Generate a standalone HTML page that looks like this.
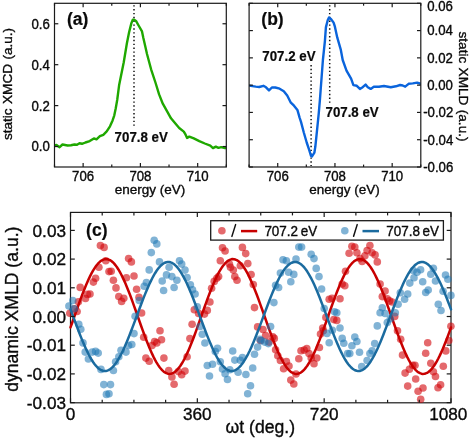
<!DOCTYPE html>
<html><head><meta charset="utf-8"><style>
html,body{margin:0;padding:0;background:#fff;}
body{width:471px;height:438px;overflow:hidden;}
svg{display:block;will-change:transform;}
</style></head><body>
<svg width="471" height="438" viewBox="0 0 471 438" font-family='"Liberation Sans", sans-serif' fill="#0a0a0a">
<rect width="471" height="438" fill="#fff"/>
<clipPath id="ca"><rect x="54.5" y="3.3" width="171.8" height="163.7"/></clipPath>
<clipPath id="cb"><rect x="249.1" y="3.3" width="171.7" height="163.7"/></clipPath>
<clipPath id="cc"><rect x="70.5" y="212.4" width="380.5" height="190.1"/></clipPath>
<line x1="134.0" y1="5.2" x2="134.0" y2="125.8" stroke="#111" stroke-width="1.5" stroke-dasharray="1.4 2.45"/>
<path d="M54.50,145.40 L56.50,145.00 L59.60,147.20 L62.50,144.50 L67.60,145.50 L71.00,145.20 L74.40,144.50 L77.00,144.80 L79.50,143.30 L82.00,143.80 L85.40,142.50 L89.70,141.10 L93.90,138.40 L96.50,139.40 L99.90,136.20 L103.30,134.80 L106.70,131.40 L110.00,126.30 L112.60,120.40 L114.30,115.30 L115.70,108.50 L117.20,100.00 L119.10,85.30 L123.70,62.50 L126.90,43.30 L129.10,32.30 L131.40,23.10 L132.80,19.70 L134.20,19.70 L136.00,20.90 L138.30,25.00 L142.00,31.40 L143.30,37.80 L145.20,46.00 L147.00,54.00 L151.10,69.30 L155.60,83.00 L159.10,94.40 L162.80,103.70 L167.40,111.90 L171.00,118.30 L175.60,123.80 L179.20,128.00 L183.80,131.60 L185.60,134.70 L187.10,137.90 L189.30,136.60 L193.80,138.40 L199.30,141.10 L204.80,143.50 L210.30,145.70 L213.00,148.10 L215.80,146.60 L218.50,147.90 L221.20,147.20 L224.90,148.10 L226.30,148.10" fill="none" stroke="#1fa800" stroke-width="2.4" stroke-linejoin="round" stroke-linecap="round" clip-path="url(#ca)"/>
<rect x="54.5" y="3.3" width="171.80" height="163.70" fill="none" stroke="#1a1a1a" stroke-width="1.2"/>
<line x1="54.50" y1="167.0" x2="54.50" y2="164.6" stroke="#1a1a1a" stroke-width="1.2"/>
<line x1="54.50" y1="3.3" x2="54.50" y2="5.699999999999999" stroke="#1a1a1a" stroke-width="1.2"/>
<line x1="83.13" y1="167.0" x2="83.13" y2="163.0" stroke="#1a1a1a" stroke-width="1.2"/>
<line x1="83.13" y1="3.3" x2="83.13" y2="7.3" stroke="#1a1a1a" stroke-width="1.2"/>
<line x1="111.77" y1="167.0" x2="111.77" y2="164.6" stroke="#1a1a1a" stroke-width="1.2"/>
<line x1="111.77" y1="3.3" x2="111.77" y2="5.699999999999999" stroke="#1a1a1a" stroke-width="1.2"/>
<line x1="140.40" y1="167.0" x2="140.40" y2="163.0" stroke="#1a1a1a" stroke-width="1.2"/>
<line x1="140.40" y1="3.3" x2="140.40" y2="7.3" stroke="#1a1a1a" stroke-width="1.2"/>
<line x1="169.03" y1="167.0" x2="169.03" y2="164.6" stroke="#1a1a1a" stroke-width="1.2"/>
<line x1="169.03" y1="3.3" x2="169.03" y2="5.699999999999999" stroke="#1a1a1a" stroke-width="1.2"/>
<line x1="197.67" y1="167.0" x2="197.67" y2="163.0" stroke="#1a1a1a" stroke-width="1.2"/>
<line x1="197.67" y1="3.3" x2="197.67" y2="7.3" stroke="#1a1a1a" stroke-width="1.2"/>
<line x1="226.30" y1="167.0" x2="226.30" y2="164.6" stroke="#1a1a1a" stroke-width="1.2"/>
<line x1="226.30" y1="3.3" x2="226.30" y2="5.699999999999999" stroke="#1a1a1a" stroke-width="1.2"/>
<line x1="54.5" y1="146.54" x2="58.3" y2="146.54" stroke="#1a1a1a" stroke-width="1.2"/>
<line x1="226.3" y1="146.54" x2="222.5" y2="146.54" stroke="#1a1a1a" stroke-width="1.2"/>
<line x1="54.5" y1="105.61" x2="58.3" y2="105.61" stroke="#1a1a1a" stroke-width="1.2"/>
<line x1="226.3" y1="105.61" x2="222.5" y2="105.61" stroke="#1a1a1a" stroke-width="1.2"/>
<line x1="54.5" y1="64.69" x2="58.3" y2="64.69" stroke="#1a1a1a" stroke-width="1.2"/>
<line x1="226.3" y1="64.69" x2="222.5" y2="64.69" stroke="#1a1a1a" stroke-width="1.2"/>
<line x1="54.5" y1="23.76" x2="58.3" y2="23.76" stroke="#1a1a1a" stroke-width="1.2"/>
<line x1="226.3" y1="23.76" x2="222.5" y2="23.76" stroke="#1a1a1a" stroke-width="1.2"/>
<text transform="translate(83.13 180.60) scale(1 1.09)" font-size="13.2" text-anchor="middle" font-weight="normal" stroke="#0a0a0a" stroke-width="0.35" >706</text>
<text transform="translate(140.40 180.60) scale(1 1.09)" font-size="13.2" text-anchor="middle" font-weight="normal" stroke="#0a0a0a" stroke-width="0.35" >708</text>
<text transform="translate(197.67 180.60) scale(1 1.09)" font-size="13.2" text-anchor="middle" font-weight="normal" stroke="#0a0a0a" stroke-width="0.35" >710</text>
<text transform="translate(49.80 151.44) scale(1 1.09)" font-size="13.2" text-anchor="end" font-weight="normal" stroke="#0a0a0a" stroke-width="0.35" >0.0</text>
<text transform="translate(49.80 110.51) scale(1 1.09)" font-size="13.2" text-anchor="end" font-weight="normal" stroke="#0a0a0a" stroke-width="0.35" >0.2</text>
<text transform="translate(49.80 69.59) scale(1 1.09)" font-size="13.2" text-anchor="end" font-weight="normal" stroke="#0a0a0a" stroke-width="0.35" >0.4</text>
<text transform="translate(49.80 28.66) scale(1 1.09)" font-size="13.2" text-anchor="end" font-weight="normal" stroke="#0a0a0a" stroke-width="0.35" >0.6</text>
<text transform="translate(149.90 193.80)" font-size="13.5" text-anchor="middle" font-weight="normal" stroke="#0a0a0a" stroke-width="0.35" >energy (eV)</text>
<text transform="translate(12.40 84.00) rotate(-90)" font-size="13.6" text-anchor="middle" font-weight="normal" stroke="#0a0a0a" stroke-width="0.35" word-spacing="0.6">static XMCD (a.u.)</text>
<text transform="translate(67.00 25.30)" font-size="17.5" text-anchor="start" font-weight="bold" stroke="#0a0a0a" stroke-width="0.2" >(a)</text>
<text transform="translate(114.60 141.60) scale(1 1.07)" font-size="13.3" text-anchor="start" font-weight="bold" stroke="#0a0a0a" stroke-width="0.2" >707.8 eV</text>
<line x1="311.1" y1="65" x2="311.1" y2="166" stroke="#111" stroke-width="1.5" stroke-dasharray="1.4 2.45"/>
<line x1="329.7" y1="5.2" x2="329.7" y2="104.5" stroke="#111" stroke-width="1.5" stroke-dasharray="1.4 2.45"/>
<path d="M249.10,85.60 L252.40,86.10 L255.80,86.60 L259.20,87.00 L263.40,85.80 L266.00,87.30 L269.00,90.40 L271.90,87.50 L275.30,87.50 L279.60,88.70 L283.80,91.20 L287.20,95.50 L290.60,102.30 L294.00,105.70 L297.40,109.90 L299.60,117.60 L301.00,121.90 L303.80,132.50 L306.70,142.50 L309.10,149.70 L311.00,156.00 L312.00,156.40 L314.40,152.60 L315.30,146.80 L316.30,137.30 L317.30,127.70 L318.80,112.80 L319.90,100.00 L321.40,80.00 L322.90,60.00 L324.90,41.10 L325.90,27.40 L327.70,20.30 L329.00,17.50 L331.10,19.20 L333.60,22.60 L334.90,26.70 L337.30,37.70 L340.70,49.30 L342.70,60.00 L346.50,70.70 L351.10,78.70 L353.40,85.10 L356.80,85.80 L359.90,88.90 L362.70,87.20 L365.60,84.60 L367.80,87.20 L370.70,88.90 L373.80,86.80 L378.90,86.80 L384.00,86.00 L390.80,87.20 L395.90,86.30 L400.10,85.00 L402.70,85.50 L405.20,86.70 L408.60,83.80 L412.80,83.40 L417.10,82.60 L420.80,83.80" fill="none" stroke="#0a64dc" stroke-width="2.4" stroke-linejoin="round" stroke-linecap="round" clip-path="url(#cb)"/>
<rect x="249.1" y="3.3" width="171.70" height="163.70" fill="none" stroke="#1a1a1a" stroke-width="1.2"/>
<line x1="249.10" y1="167.0" x2="249.10" y2="164.6" stroke="#1a1a1a" stroke-width="1.2"/>
<line x1="249.10" y1="3.3" x2="249.10" y2="5.699999999999999" stroke="#1a1a1a" stroke-width="1.2"/>
<line x1="277.72" y1="167.0" x2="277.72" y2="163.0" stroke="#1a1a1a" stroke-width="1.2"/>
<line x1="277.72" y1="3.3" x2="277.72" y2="7.3" stroke="#1a1a1a" stroke-width="1.2"/>
<line x1="306.33" y1="167.0" x2="306.33" y2="164.6" stroke="#1a1a1a" stroke-width="1.2"/>
<line x1="306.33" y1="3.3" x2="306.33" y2="5.699999999999999" stroke="#1a1a1a" stroke-width="1.2"/>
<line x1="334.95" y1="167.0" x2="334.95" y2="163.0" stroke="#1a1a1a" stroke-width="1.2"/>
<line x1="334.95" y1="3.3" x2="334.95" y2="7.3" stroke="#1a1a1a" stroke-width="1.2"/>
<line x1="363.57" y1="167.0" x2="363.57" y2="164.6" stroke="#1a1a1a" stroke-width="1.2"/>
<line x1="363.57" y1="3.3" x2="363.57" y2="5.699999999999999" stroke="#1a1a1a" stroke-width="1.2"/>
<line x1="392.18" y1="167.0" x2="392.18" y2="163.0" stroke="#1a1a1a" stroke-width="1.2"/>
<line x1="392.18" y1="3.3" x2="392.18" y2="7.3" stroke="#1a1a1a" stroke-width="1.2"/>
<line x1="420.80" y1="167.0" x2="420.80" y2="164.6" stroke="#1a1a1a" stroke-width="1.2"/>
<line x1="420.80" y1="3.3" x2="420.80" y2="5.699999999999999" stroke="#1a1a1a" stroke-width="1.2"/>
<line x1="249.1" y1="167.00" x2="252.9" y2="167.00" stroke="#1a1a1a" stroke-width="1.2"/>
<line x1="420.8" y1="167.00" x2="417.0" y2="167.00" stroke="#1a1a1a" stroke-width="1.2"/>
<line x1="249.1" y1="139.72" x2="252.9" y2="139.72" stroke="#1a1a1a" stroke-width="1.2"/>
<line x1="420.8" y1="139.72" x2="417.0" y2="139.72" stroke="#1a1a1a" stroke-width="1.2"/>
<line x1="249.1" y1="112.43" x2="252.9" y2="112.43" stroke="#1a1a1a" stroke-width="1.2"/>
<line x1="420.8" y1="112.43" x2="417.0" y2="112.43" stroke="#1a1a1a" stroke-width="1.2"/>
<line x1="249.1" y1="85.15" x2="252.9" y2="85.15" stroke="#1a1a1a" stroke-width="1.2"/>
<line x1="420.8" y1="85.15" x2="417.0" y2="85.15" stroke="#1a1a1a" stroke-width="1.2"/>
<line x1="249.1" y1="57.87" x2="252.9" y2="57.87" stroke="#1a1a1a" stroke-width="1.2"/>
<line x1="420.8" y1="57.87" x2="417.0" y2="57.87" stroke="#1a1a1a" stroke-width="1.2"/>
<line x1="249.1" y1="30.58" x2="252.9" y2="30.58" stroke="#1a1a1a" stroke-width="1.2"/>
<line x1="420.8" y1="30.58" x2="417.0" y2="30.58" stroke="#1a1a1a" stroke-width="1.2"/>
<line x1="249.1" y1="3.30" x2="252.9" y2="3.30" stroke="#1a1a1a" stroke-width="1.2"/>
<line x1="420.8" y1="3.30" x2="417.0" y2="3.30" stroke="#1a1a1a" stroke-width="1.2"/>
<text transform="translate(277.72 180.60) scale(1 1.09)" font-size="13.2" text-anchor="middle" font-weight="normal" stroke="#0a0a0a" stroke-width="0.35" >706</text>
<text transform="translate(334.95 180.60) scale(1 1.09)" font-size="13.2" text-anchor="middle" font-weight="normal" stroke="#0a0a0a" stroke-width="0.35" >708</text>
<text transform="translate(392.18 180.60) scale(1 1.09)" font-size="13.2" text-anchor="middle" font-weight="normal" stroke="#0a0a0a" stroke-width="0.35" >710</text>
<text transform="translate(423.20 171.80) scale(1 1.09)" font-size="13.2" text-anchor="start" font-weight="normal" stroke="#0a0a0a" stroke-width="0.35" >-0.06</text>
<text transform="translate(423.20 144.52) scale(1 1.09)" font-size="13.2" text-anchor="start" font-weight="normal" stroke="#0a0a0a" stroke-width="0.35" >-0.04</text>
<text transform="translate(423.20 117.23) scale(1 1.09)" font-size="13.2" text-anchor="start" font-weight="normal" stroke="#0a0a0a" stroke-width="0.35" >-0.02</text>
<text transform="translate(427.20 89.95) scale(1 1.09)" font-size="13.2" text-anchor="start" font-weight="normal" stroke="#0a0a0a" stroke-width="0.35" >0.00</text>
<text transform="translate(427.20 62.67) scale(1 1.09)" font-size="13.2" text-anchor="start" font-weight="normal" stroke="#0a0a0a" stroke-width="0.35" >0.02</text>
<text transform="translate(427.20 35.38) scale(1 1.09)" font-size="13.2" text-anchor="start" font-weight="normal" stroke="#0a0a0a" stroke-width="0.35" >0.04</text>
<text transform="translate(427.20 11.00) scale(1 1.09)" font-size="13.2" text-anchor="start" font-weight="normal" stroke="#0a0a0a" stroke-width="0.35" >0.06</text>
<text transform="translate(344.40 193.80)" font-size="13.5" text-anchor="middle" font-weight="normal" stroke="#0a0a0a" stroke-width="0.35" >energy (eV)</text>
<text transform="translate(459.00 86.50) rotate(90)" font-size="13.6" text-anchor="middle" font-weight="normal" stroke="#0a0a0a" stroke-width="0.35" word-spacing="0.6">static XMLD (a.u.)</text>
<text transform="translate(261.30 25.20)" font-size="17.5" text-anchor="start" font-weight="bold" stroke="#0a0a0a" stroke-width="0.2" >(b)</text>
<text transform="translate(262.30 60.60) scale(1 1.07)" font-size="13.3" text-anchor="start" font-weight="bold" stroke="#0a0a0a" stroke-width="0.2" >707.2 eV</text>
<text transform="translate(325.50 116.50) scale(1 1.07)" font-size="13.3" text-anchor="start" font-weight="bold" stroke="#0a0a0a" stroke-width="0.2" >707.8 eV</text>
<rect x="70.5" y="212.4" width="380.50" height="190.40" fill="none" stroke="#1a1a1a" stroke-width="1.2"/>
<g fill="rgb(210,5,10)" fill-opacity="0.6">
<circle cx="100.4" cy="245.6" r="3.8"/>
<circle cx="104.1" cy="247.4" r="3.8"/>
<circle cx="128.6" cy="258.6" r="3.8"/>
<circle cx="131.4" cy="261.9" r="3.8"/>
<circle cx="105.8" cy="260.8" r="3.8"/>
<circle cx="98.9" cy="267.3" r="3.8"/>
<circle cx="109" cy="271.6" r="3.8"/>
<circle cx="111.2" cy="271.2" r="3.8"/>
<circle cx="95.6" cy="278.2" r="3.8"/>
<circle cx="93.4" cy="282.1" r="3.8"/>
<circle cx="113.4" cy="280.3" r="3.8"/>
<circle cx="126.4" cy="277.7" r="3.8"/>
<circle cx="134" cy="276" r="3.8"/>
<circle cx="80.2" cy="287.4" r="3.8"/>
<circle cx="116" cy="287.9" r="3.8"/>
<circle cx="136.6" cy="289.2" r="3.8"/>
<circle cx="90" cy="294" r="3.8"/>
<circle cx="87.4" cy="294.4" r="3.8"/>
<circle cx="85.5" cy="298.5" r="3.8"/>
<circle cx="118.8" cy="296.6" r="3.8"/>
<circle cx="123.8" cy="298.3" r="3.8"/>
<circle cx="121.6" cy="301.4" r="3.8"/>
<circle cx="139" cy="297.2" r="3.8"/>
<circle cx="78.4" cy="301.8" r="3.8"/>
<circle cx="74.4" cy="308.7" r="3.8"/>
<circle cx="69.8" cy="313.3" r="3.8"/>
<circle cx="77.1" cy="311.5" r="3.8"/>
<circle cx="141.6" cy="313" r="3.8"/>
<circle cx="160" cy="330.8" r="3.8"/>
<circle cx="143.7" cy="337.3" r="3.8"/>
<circle cx="154.6" cy="341.6" r="3.8"/>
<circle cx="156.8" cy="342.9" r="3.8"/>
<circle cx="152" cy="345.5" r="3.8"/>
<circle cx="161.5" cy="339.7" r="3.8"/>
<circle cx="145.9" cy="358.1" r="3.8"/>
<circle cx="149.2" cy="361.2" r="3.8"/>
<circle cx="163.9" cy="358.1" r="3.8"/>
<circle cx="222.5" cy="247.8" r="3.8"/>
<circle cx="225.1" cy="251" r="3.8"/>
<circle cx="242.4" cy="247.4" r="3.8"/>
<circle cx="245.7" cy="253.6" r="3.8"/>
<circle cx="220.3" cy="260.8" r="3.8"/>
<circle cx="247.8" cy="263.6" r="3.8"/>
<circle cx="229.4" cy="264.1" r="3.8"/>
<circle cx="230.5" cy="267.3" r="3.8"/>
<circle cx="233.3" cy="270.1" r="3.8"/>
<circle cx="240.3" cy="265.8" r="3.8"/>
<circle cx="218.6" cy="276.6" r="3.8"/>
<circle cx="216.8" cy="278.2" r="3.8"/>
<circle cx="234.8" cy="276.6" r="3.8"/>
<circle cx="237" cy="280.3" r="3.8"/>
<circle cx="214.2" cy="281.4" r="3.8"/>
<circle cx="251.1" cy="274.5" r="3.8"/>
<circle cx="211.6" cy="288.3" r="3.8"/>
<circle cx="253.3" cy="284.5" r="3.8"/>
<circle cx="209.9" cy="302" r="3.8"/>
<circle cx="194.3" cy="309.8" r="3.8"/>
<circle cx="198.6" cy="313.4" r="3.8"/>
<circle cx="204.5" cy="314.1" r="3.8"/>
<circle cx="207.3" cy="310.4" r="3.8"/>
<circle cx="254.5" cy="307.6" r="3.8"/>
<circle cx="192.1" cy="324.3" r="3.8"/>
<circle cx="189.9" cy="338.6" r="3.8"/>
<circle cx="187.1" cy="356.8" r="3.8"/>
<circle cx="168.7" cy="370.5" r="3.8"/>
<circle cx="171.9" cy="377" r="3.8"/>
<circle cx="178.4" cy="371.6" r="3.8"/>
<circle cx="181.7" cy="374.8" r="3.8"/>
<circle cx="185" cy="371.1" r="3.8"/>
<circle cx="174.1" cy="384.2" r="3.8"/>
<circle cx="257.6" cy="326.9" r="3.8"/>
<circle cx="263" cy="329.5" r="3.8"/>
<circle cx="260.5" cy="340.5" r="3.8"/>
<circle cx="265.6" cy="335.6" r="3.8"/>
<circle cx="269.1" cy="342.1" r="3.8"/>
<circle cx="272.8" cy="336.7" r="3.8"/>
<circle cx="274.3" cy="338.4" r="3.8"/>
<circle cx="275.6" cy="349.7" r="3.8"/>
<circle cx="277.8" cy="355.8" r="3.8"/>
<circle cx="280.4" cy="360.5" r="3.8"/>
<circle cx="286.4" cy="361.6" r="3.8"/>
<circle cx="289" cy="366" r="3.8"/>
<circle cx="283.6" cy="368.8" r="3.8"/>
<circle cx="296" cy="374" r="3.8"/>
<circle cx="290.8" cy="380.1" r="3.8"/>
<circle cx="293.8" cy="384" r="3.8"/>
<circle cx="298.8" cy="358.8" r="3.8"/>
<circle cx="301" cy="350.8" r="3.8"/>
<circle cx="304.2" cy="350.1" r="3.8"/>
<circle cx="306.8" cy="348.6" r="3.8"/>
<circle cx="309" cy="353.6" r="3.8"/>
<circle cx="311.2" cy="358" r="3.8"/>
<circle cx="314" cy="363.8" r="3.8"/>
<circle cx="316.8" cy="358" r="3.8"/>
<circle cx="319.4" cy="347.5" r="3.8"/>
<circle cx="320.5" cy="334.1" r="3.8"/>
<circle cx="322.7" cy="328" r="3.8"/>
<circle cx="325.9" cy="317.4" r="3.8"/>
<circle cx="333.8" cy="319.6" r="3.8"/>
<circle cx="336.8" cy="320.4" r="3.8"/>
<circle cx="323.3" cy="330.8" r="3.8"/>
<circle cx="329.2" cy="299.2" r="3.8"/>
<circle cx="332" cy="298.3" r="3.8"/>
<circle cx="340" cy="298.7" r="3.8"/>
<circle cx="342.2" cy="284" r="3.8"/>
<circle cx="344.8" cy="285.7" r="3.8"/>
<circle cx="345.5" cy="271.3" r="3.8"/>
<circle cx="351.9" cy="246.2" r="3.8"/>
<circle cx="354.8" cy="247.1" r="3.8"/>
<circle cx="369.9" cy="245.6" r="3.8"/>
<circle cx="349.1" cy="253.2" r="3.8"/>
<circle cx="356.9" cy="252.8" r="3.8"/>
<circle cx="367.1" cy="250.6" r="3.8"/>
<circle cx="372.1" cy="252.8" r="3.8"/>
<circle cx="375.1" cy="254.9" r="3.8"/>
<circle cx="360" cy="258.6" r="3.8"/>
<circle cx="364.9" cy="255.8" r="3.8"/>
<circle cx="362.1" cy="261.4" r="3.8"/>
<circle cx="377.3" cy="261.9" r="3.8"/>
<circle cx="380.1" cy="284" r="3.8"/>
<circle cx="385.1" cy="291.1" r="3.8"/>
<circle cx="382.3" cy="296.6" r="3.8"/>
<circle cx="387.3" cy="298.7" r="3.8"/>
<circle cx="389.5" cy="300.9" r="3.8"/>
<circle cx="392.1" cy="302" r="3.8"/>
<circle cx="394.7" cy="316.4" r="3.8"/>
<circle cx="397.5" cy="330.8" r="3.8"/>
<circle cx="400.7" cy="339.3" r="3.8"/>
<circle cx="402.5" cy="355.1" r="3.8"/>
<circle cx="427.7" cy="342.7" r="3.8"/>
<circle cx="425.7" cy="353.3" r="3.8"/>
<circle cx="430.8" cy="363.2" r="3.8"/>
<circle cx="412.7" cy="365.3" r="3.8"/>
<circle cx="409.4" cy="369.2" r="3.8"/>
<circle cx="405.1" cy="373.1" r="3.8"/>
<circle cx="433.4" cy="371.7" r="3.8"/>
<circle cx="415.7" cy="379" r="3.8"/>
<circle cx="407.7" cy="386.1" r="3.8"/>
<circle cx="423" cy="388" r="3.8"/>
<circle cx="418.1" cy="391.3" r="3.8"/>
<circle cx="420.7" cy="399.2" r="3.8"/>
<circle cx="450.9" cy="326.3" r="3.8"/>
<circle cx="448.8" cy="340.6" r="3.8"/>
<circle cx="445.8" cy="350.9" r="3.8"/>
<circle cx="443.3" cy="366.3" r="3.8"/>
<circle cx="435.5" cy="376.5" r="3.8"/>
<circle cx="440.6" cy="384.7" r="3.8"/>
<circle cx="438" cy="387.8" r="3.8"/>
<circle cx="415" cy="365.3" r="3.8"/>
</g>
<path d="M70.50,327.45 L71.91,323.50 L73.32,319.50 L74.73,315.50 L76.14,311.50 L77.55,307.52 L78.96,303.59 L80.36,299.72 L81.77,295.93 L83.18,292.24 L84.59,288.67 L86.00,285.24 L87.41,281.96 L88.82,278.84 L90.23,275.91 L91.64,273.18 L93.05,270.66 L94.46,268.36 L95.87,266.30 L97.28,264.48 L98.69,262.91 L100.09,261.61 L101.50,260.57 L102.91,259.81 L104.32,259.32 L105.73,259.11 L107.14,259.18 L108.55,259.53 L109.96,260.15 L111.37,261.06 L112.78,262.23 L114.19,263.66 L115.60,265.36 L117.01,267.30 L118.41,269.48 L119.82,271.89 L121.23,274.52 L122.64,277.35 L124.05,280.38 L125.46,283.58 L126.87,286.94 L128.28,290.44 L129.69,294.07 L131.10,297.81 L132.51,301.64 L133.92,305.55 L135.33,309.50 L136.74,313.50 L138.14,317.50 L139.55,321.50 L140.96,325.48 L142.37,329.41 L143.78,333.28 L145.19,337.07 L146.60,340.76 L148.01,344.33 L149.42,347.76 L150.83,351.04 L152.24,354.16 L153.65,357.09 L155.06,359.82 L156.46,362.34 L157.87,364.64 L159.28,366.70 L160.69,368.52 L162.10,370.09 L163.51,371.39 L164.92,372.43 L166.33,373.19 L167.74,373.68 L169.15,373.89 L170.56,373.82 L171.97,373.47 L173.38,372.85 L174.79,371.94 L176.19,370.77 L177.60,369.34 L179.01,367.64 L180.42,365.70 L181.83,363.52 L183.24,361.11 L184.65,358.48 L186.06,355.65 L187.47,352.62 L188.88,349.42 L190.29,346.06 L191.70,342.56 L193.11,338.93 L194.51,335.19 L195.92,331.36 L197.33,327.45 L198.74,323.50 L200.15,319.50 L201.56,315.50 L202.97,311.50 L204.38,307.52 L205.79,303.59 L207.20,299.72 L208.61,295.93 L210.02,292.24 L211.43,288.67 L212.84,285.24 L214.24,281.96 L215.65,278.84 L217.06,275.91 L218.47,273.18 L219.88,270.66 L221.29,268.36 L222.70,266.30 L224.11,264.48 L225.52,262.91 L226.93,261.61 L228.34,260.57 L229.75,259.81 L231.16,259.32 L232.56,259.11 L233.97,259.18 L235.38,259.53 L236.79,260.15 L238.20,261.06 L239.61,262.23 L241.02,263.66 L242.43,265.36 L243.84,267.30 L245.25,269.48 L246.66,271.89 L248.07,274.52 L249.48,277.35 L250.89,280.38 L252.29,283.58 L253.70,286.94 L255.11,290.44 L256.52,294.07 L257.93,297.81 L259.34,301.64 L260.75,305.55 L262.16,309.50 L263.57,313.50 L264.98,317.50 L266.39,321.50 L267.80,325.48 L269.21,329.41 L270.61,333.28 L272.02,337.07 L273.43,340.76 L274.84,344.33 L276.25,347.76 L277.66,351.04 L279.07,354.16 L280.48,357.09 L281.89,359.82 L283.30,362.34 L284.71,364.64 L286.12,366.70 L287.53,368.52 L288.94,370.09 L290.34,371.39 L291.75,372.43 L293.16,373.19 L294.57,373.68 L295.98,373.89 L297.39,373.82 L298.80,373.47 L300.21,372.85 L301.62,371.94 L303.03,370.77 L304.44,369.34 L305.85,367.64 L307.26,365.70 L308.66,363.52 L310.07,361.11 L311.48,358.48 L312.89,355.65 L314.30,352.62 L315.71,349.42 L317.12,346.06 L318.53,342.56 L319.94,338.93 L321.35,335.19 L322.76,331.36 L324.17,327.45 L325.58,323.50 L326.99,319.50 L328.39,315.50 L329.80,311.50 L331.21,307.52 L332.62,303.59 L334.03,299.72 L335.44,295.93 L336.85,292.24 L338.26,288.67 L339.67,285.24 L341.08,281.96 L342.49,278.84 L343.90,275.91 L345.31,273.18 L346.71,270.66 L348.12,268.36 L349.53,266.30 L350.94,264.48 L352.35,262.91 L353.76,261.61 L355.17,260.57 L356.58,259.81 L357.99,259.32 L359.40,259.11 L360.81,259.18 L362.22,259.53 L363.63,260.15 L365.04,261.06 L366.44,262.23 L367.85,263.66 L369.26,265.36 L370.67,267.30 L372.08,269.48 L373.49,271.89 L374.90,274.52 L376.31,277.35 L377.72,280.38 L379.13,283.58 L380.54,286.94 L381.95,290.44 L383.36,294.07 L384.76,297.81 L386.17,301.64 L387.58,305.55 L388.99,309.50 L390.40,313.50 L391.81,317.50 L393.22,321.50 L394.63,325.48 L396.04,329.41 L397.45,333.28 L398.86,337.07 L400.27,340.76 L401.68,344.33 L403.09,347.76 L404.49,351.04 L405.90,354.16 L407.31,357.09 L408.72,359.82 L410.13,362.34 L411.54,364.64 L412.95,366.70 L414.36,368.52 L415.77,370.09 L417.18,371.39 L418.59,372.43 L420.00,373.19 L421.41,373.68 L422.81,373.89 L424.22,373.82 L425.63,373.47 L427.04,372.85 L428.45,371.94 L429.86,370.77 L431.27,369.34 L432.68,367.64 L434.09,365.70 L435.50,363.52 L436.91,361.11 L438.32,358.48 L439.73,355.65 L441.14,352.62 L442.54,349.42 L443.95,346.06 L445.36,342.56 L446.77,338.93 L448.18,335.19 L449.59,331.36 L451.00,327.45" fill="none" stroke="#c80000" stroke-width="2.5" stroke-linejoin="round" stroke-linecap="round" />
<g fill="rgb(31,119,180)" fill-opacity="0.56">
<circle cx="154.2" cy="240.2" r="3.8"/>
<circle cx="156.8" cy="243.9" r="3.8"/>
<circle cx="151.3" cy="252.6" r="3.8"/>
<circle cx="159.5" cy="261.9" r="3.8"/>
<circle cx="149.2" cy="269.9" r="3.8"/>
<circle cx="146.4" cy="282.5" r="3.8"/>
<circle cx="144.2" cy="286.2" r="3.8"/>
<circle cx="162.2" cy="281" r="3.8"/>
<circle cx="163.6" cy="290.5" r="3.8"/>
<circle cx="72.8" cy="300.5" r="3.8"/>
<circle cx="139.2" cy="300.5" r="3.8"/>
<circle cx="68.9" cy="306" r="3.8"/>
<circle cx="74.4" cy="308.7" r="3.8"/>
<circle cx="78.8" cy="324.2" r="3.8"/>
<circle cx="80.8" cy="329.3" r="3.8"/>
<circle cx="83" cy="342.9" r="3.8"/>
<circle cx="85.2" cy="352.1" r="3.8"/>
<circle cx="88.4" cy="359" r="3.8"/>
<circle cx="92.3" cy="352.1" r="3.8"/>
<circle cx="95.6" cy="351.4" r="3.8"/>
<circle cx="98.2" cy="353.1" r="3.8"/>
<circle cx="101" cy="369.4" r="3.8"/>
<circle cx="103.8" cy="384.6" r="3.8"/>
<circle cx="110.5" cy="384.6" r="3.8"/>
<circle cx="106.4" cy="394.4" r="3.8"/>
<circle cx="109" cy="393.7" r="3.8"/>
<circle cx="113.4" cy="370.5" r="3.8"/>
<circle cx="115.6" cy="361.8" r="3.8"/>
<circle cx="118.8" cy="356.8" r="3.8"/>
<circle cx="121" cy="350.3" r="3.8"/>
<circle cx="126" cy="352.1" r="3.8"/>
<circle cx="128.6" cy="345.5" r="3.8"/>
<circle cx="131.8" cy="344.5" r="3.8"/>
<circle cx="134" cy="333.6" r="3.8"/>
<circle cx="135.1" cy="316.3" r="3.8"/>
<circle cx="169.1" cy="267.3" r="3.8"/>
<circle cx="179.5" cy="260.8" r="3.8"/>
<circle cx="181.7" cy="264.1" r="3.8"/>
<circle cx="185" cy="270.1" r="3.8"/>
<circle cx="166.5" cy="274.9" r="3.8"/>
<circle cx="171.9" cy="276.6" r="3.8"/>
<circle cx="176.9" cy="280.3" r="3.8"/>
<circle cx="187.1" cy="277.5" r="3.8"/>
<circle cx="190.4" cy="284.7" r="3.8"/>
<circle cx="174.1" cy="287.5" r="3.8"/>
<circle cx="192.5" cy="289.7" r="3.8"/>
<circle cx="195.1" cy="294" r="3.8"/>
<circle cx="197.3" cy="306.9" r="3.8"/>
<circle cx="200.1" cy="326.5" r="3.8"/>
<circle cx="202.3" cy="334.3" r="3.8"/>
<circle cx="204.9" cy="343" r="3.8"/>
<circle cx="217.5" cy="348.2" r="3.8"/>
<circle cx="215.3" cy="351.6" r="3.8"/>
<circle cx="232.7" cy="351" r="3.8"/>
<circle cx="207.3" cy="365.5" r="3.8"/>
<circle cx="212.5" cy="364.2" r="3.8"/>
<circle cx="220.3" cy="361.8" r="3.8"/>
<circle cx="234.8" cy="360.1" r="3.8"/>
<circle cx="242.4" cy="357.5" r="3.8"/>
<circle cx="240.3" cy="360.3" r="3.8"/>
<circle cx="222.5" cy="369" r="3.8"/>
<circle cx="225.1" cy="373.7" r="3.8"/>
<circle cx="229.8" cy="369.8" r="3.8"/>
<circle cx="238.1" cy="372.2" r="3.8"/>
<circle cx="245.9" cy="374.5" r="3.8"/>
<circle cx="252.7" cy="368" r="3.8"/>
<circle cx="254.5" cy="354.3" r="3.8"/>
<circle cx="209.5" cy="376" r="3.8"/>
<circle cx="227.5" cy="379.5" r="3.8"/>
<circle cx="250.5" cy="385.8" r="3.8"/>
<circle cx="247.7" cy="393.8" r="3.8"/>
<circle cx="298.8" cy="247.1" r="3.8"/>
<circle cx="301.6" cy="247.1" r="3.8"/>
<circle cx="311.2" cy="254.3" r="3.8"/>
<circle cx="314" cy="258.6" r="3.8"/>
<circle cx="283" cy="259.7" r="3.8"/>
<circle cx="286.4" cy="260.8" r="3.8"/>
<circle cx="296" cy="259" r="3.8"/>
<circle cx="316.2" cy="268.4" r="3.8"/>
<circle cx="280.4" cy="273.1" r="3.8"/>
<circle cx="288.6" cy="272.3" r="3.8"/>
<circle cx="293.8" cy="274.4" r="3.8"/>
<circle cx="319" cy="276.6" r="3.8"/>
<circle cx="290.8" cy="281.8" r="3.8"/>
<circle cx="275.6" cy="285.3" r="3.8"/>
<circle cx="278.6" cy="287.5" r="3.8"/>
<circle cx="321.6" cy="289" r="3.8"/>
<circle cx="273.9" cy="302.6" r="3.8"/>
<circle cx="324.2" cy="308.5" r="3.8"/>
<circle cx="334.6" cy="311.7" r="3.8"/>
<circle cx="336.8" cy="312.8" r="3.8"/>
<circle cx="270.6" cy="326.5" r="3.8"/>
<circle cx="340" cy="328" r="3.8"/>
<circle cx="259.8" cy="339.3" r="3.8"/>
<circle cx="261.3" cy="340.6" r="3.8"/>
<circle cx="264.7" cy="342.1" r="3.8"/>
<circle cx="268.4" cy="343.6" r="3.8"/>
<circle cx="257.6" cy="347.1" r="3.8"/>
<circle cx="327" cy="333.4" r="3.8"/>
<circle cx="329.2" cy="342.8" r="3.8"/>
<circle cx="332.4" cy="330.2" r="3.8"/>
<circle cx="343.8" cy="343.2" r="3.8"/>
<circle cx="342.2" cy="338.4" r="3.8"/>
<circle cx="413.3" cy="270.5" r="3.8"/>
<circle cx="417" cy="272.3" r="3.8"/>
<circle cx="420.6" cy="269.8" r="3.8"/>
<circle cx="430.8" cy="274.3" r="3.8"/>
<circle cx="433.4" cy="268.2" r="3.8"/>
<circle cx="414" cy="277.8" r="3.8"/>
<circle cx="409.8" cy="283.1" r="3.8"/>
<circle cx="422.7" cy="281.8" r="3.8"/>
<circle cx="428.2" cy="290" r="3.8"/>
<circle cx="425.7" cy="292.5" r="3.8"/>
<circle cx="400.3" cy="292.7" r="3.8"/>
<circle cx="407.7" cy="294" r="3.8"/>
<circle cx="404.6" cy="299.2" r="3.8"/>
<circle cx="398.1" cy="304.2" r="3.8"/>
<circle cx="382.3" cy="307.8" r="3.8"/>
<circle cx="380.1" cy="312.8" r="3.8"/>
<circle cx="385.1" cy="313.5" r="3.8"/>
<circle cx="395.3" cy="312.8" r="3.8"/>
<circle cx="390.3" cy="318.7" r="3.8"/>
<circle cx="387.3" cy="322.6" r="3.8"/>
<circle cx="377.3" cy="325.9" r="3.8"/>
<circle cx="445.5" cy="275" r="3.8"/>
<circle cx="447.9" cy="279.3" r="3.8"/>
<circle cx="435.5" cy="281" r="3.8"/>
<circle cx="443.1" cy="291.3" r="3.8"/>
<circle cx="450.9" cy="295.4" r="3.8"/>
<circle cx="438.3" cy="304.3" r="3.8"/>
<circle cx="441" cy="310.5" r="3.8"/>
<circle cx="354.8" cy="337.1" r="3.8"/>
<circle cx="356.9" cy="341.5" r="3.8"/>
<circle cx="351.9" cy="345.8" r="3.8"/>
<circle cx="347.6" cy="353.6" r="3.8"/>
<circle cx="349.8" cy="353.6" r="3.8"/>
<circle cx="359.5" cy="352.3" r="3.8"/>
<circle cx="374.7" cy="343.6" r="3.8"/>
<circle cx="372.1" cy="350.8" r="3.8"/>
<circle cx="369.9" cy="353.6" r="3.8"/>
<circle cx="367.1" cy="360.5" r="3.8"/>
<circle cx="361.7" cy="366.6" r="3.8"/>
</g>
<path d="M70.50,309.38 L71.91,313.17 L73.32,316.98 L74.73,320.78 L76.14,324.56 L77.55,328.30 L78.96,331.99 L80.36,335.60 L81.77,339.11 L83.18,342.52 L84.59,345.80 L86.00,348.94 L87.41,351.91 L88.82,354.72 L90.23,357.34 L91.64,359.76 L93.05,361.97 L94.46,363.96 L95.87,365.72 L97.28,367.24 L98.69,368.51 L100.09,369.52 L101.50,370.28 L102.91,370.78 L104.32,371.01 L105.73,370.98 L107.14,370.68 L108.55,370.12 L109.96,369.29 L111.37,368.21 L112.78,366.88 L114.19,365.30 L115.60,363.48 L117.01,361.44 L118.41,359.18 L119.82,356.70 L121.23,354.04 L122.64,351.19 L124.05,348.17 L125.46,344.99 L126.87,341.68 L128.28,338.24 L129.69,334.70 L131.10,331.07 L132.51,327.37 L133.92,323.62 L135.33,319.83 L136.74,316.02 L138.14,312.22 L139.55,308.44 L140.96,304.70 L142.37,301.01 L143.78,297.40 L145.19,293.89 L146.60,290.48 L148.01,287.20 L149.42,284.06 L150.83,281.09 L152.24,278.28 L153.65,275.66 L155.06,273.24 L156.46,271.03 L157.87,269.04 L159.28,267.28 L160.69,265.76 L162.10,264.49 L163.51,263.48 L164.92,262.72 L166.33,262.22 L167.74,261.99 L169.15,262.02 L170.56,262.32 L171.97,262.88 L173.38,263.71 L174.79,264.79 L176.19,266.12 L177.60,267.70 L179.01,269.52 L180.42,271.56 L181.83,273.82 L183.24,276.30 L184.65,278.96 L186.06,281.81 L187.47,284.83 L188.88,288.01 L190.29,291.32 L191.70,294.76 L193.11,298.30 L194.51,301.93 L195.92,305.63 L197.33,309.38 L198.74,313.17 L200.15,316.98 L201.56,320.78 L202.97,324.56 L204.38,328.30 L205.79,331.99 L207.20,335.60 L208.61,339.11 L210.02,342.52 L211.43,345.80 L212.84,348.94 L214.24,351.91 L215.65,354.72 L217.06,357.34 L218.47,359.76 L219.88,361.97 L221.29,363.96 L222.70,365.72 L224.11,367.24 L225.52,368.51 L226.93,369.52 L228.34,370.28 L229.75,370.78 L231.16,371.01 L232.56,370.98 L233.97,370.68 L235.38,370.12 L236.79,369.29 L238.20,368.21 L239.61,366.88 L241.02,365.30 L242.43,363.48 L243.84,361.44 L245.25,359.18 L246.66,356.70 L248.07,354.04 L249.48,351.19 L250.89,348.17 L252.29,344.99 L253.70,341.68 L255.11,338.24 L256.52,334.70 L257.93,331.07 L259.34,327.37 L260.75,323.62 L262.16,319.83 L263.57,316.02 L264.98,312.22 L266.39,308.44 L267.80,304.70 L269.21,301.01 L270.61,297.40 L272.02,293.89 L273.43,290.48 L274.84,287.20 L276.25,284.06 L277.66,281.09 L279.07,278.28 L280.48,275.66 L281.89,273.24 L283.30,271.03 L284.71,269.04 L286.12,267.28 L287.53,265.76 L288.94,264.49 L290.34,263.48 L291.75,262.72 L293.16,262.22 L294.57,261.99 L295.98,262.02 L297.39,262.32 L298.80,262.88 L300.21,263.71 L301.62,264.79 L303.03,266.12 L304.44,267.70 L305.85,269.52 L307.26,271.56 L308.66,273.82 L310.07,276.30 L311.48,278.96 L312.89,281.81 L314.30,284.83 L315.71,288.01 L317.12,291.32 L318.53,294.76 L319.94,298.30 L321.35,301.93 L322.76,305.63 L324.17,309.38 L325.58,313.17 L326.99,316.98 L328.39,320.78 L329.80,324.56 L331.21,328.30 L332.62,331.99 L334.03,335.60 L335.44,339.11 L336.85,342.52 L338.26,345.80 L339.67,348.94 L341.08,351.91 L342.49,354.72 L343.90,357.34 L345.31,359.76 L346.71,361.97 L348.12,363.96 L349.53,365.72 L350.94,367.24 L352.35,368.51 L353.76,369.52 L355.17,370.28 L356.58,370.78 L357.99,371.01 L359.40,370.98 L360.81,370.68 L362.22,370.12 L363.63,369.29 L365.04,368.21 L366.44,366.88 L367.85,365.30 L369.26,363.48 L370.67,361.44 L372.08,359.18 L373.49,356.70 L374.90,354.04 L376.31,351.19 L377.72,348.17 L379.13,344.99 L380.54,341.68 L381.95,338.24 L383.36,334.70 L384.76,331.07 L386.17,327.37 L387.58,323.62 L388.99,319.83 L390.40,316.02 L391.81,312.22 L393.22,308.44 L394.63,304.70 L396.04,301.01 L397.45,297.40 L398.86,293.89 L400.27,290.48 L401.68,287.20 L403.09,284.06 L404.49,281.09 L405.90,278.28 L407.31,275.66 L408.72,273.24 L410.13,271.03 L411.54,269.04 L412.95,267.28 L414.36,265.76 L415.77,264.49 L417.18,263.48 L418.59,262.72 L420.00,262.22 L421.41,261.99 L422.81,262.02 L424.22,262.32 L425.63,262.88 L427.04,263.71 L428.45,264.79 L429.86,266.12 L431.27,267.70 L432.68,269.52 L434.09,271.56 L435.50,273.82 L436.91,276.30 L438.32,278.96 L439.73,281.81 L441.14,284.83 L442.54,288.01 L443.95,291.32 L445.36,294.76 L446.77,298.30 L448.18,301.93 L449.59,305.63 L451.00,309.38" fill="none" stroke="#1b6b9f" stroke-width="2.5" stroke-linejoin="round" stroke-linecap="round" />
<rect x="210.7" y="220.7" width="232.7" height="19.4" fill="#fff" stroke="#1a1a1a" stroke-width="1.3"/>
<circle cx="221.9" cy="230.8" r="3.8" fill="rgb(210,5,10)" fill-opacity="0.6"/>
<line x1="235.6" y1="224.6" x2="231.9" y2="236.4" stroke="#111" stroke-width="1.5" stroke-linecap="round"/>
<line x1="241" y1="231.1" x2="257.2" y2="231.1" stroke="#c80000" stroke-width="2.5"/>
<text transform="translate(264.40 236.30) scale(1 1.06)" font-size="13.45" text-anchor="start" font-weight="normal" stroke="#0a0a0a" stroke-width="0.35" >707.2&#8201;eV</text>
<circle cx="344.8" cy="230.8" r="3.8" fill="rgb(31,119,180)" fill-opacity="0.56"/>
<line x1="357.2" y1="224.6" x2="353.6" y2="236.3" stroke="#111" stroke-width="1.5" stroke-linecap="round"/>
<line x1="362.5" y1="231.1" x2="379" y2="231.1" stroke="#1b6b9f" stroke-width="2.5"/>
<text transform="translate(386.30 236.30) scale(1 1.06)" font-size="13.45" text-anchor="start" font-weight="normal" stroke="#0a0a0a" stroke-width="0.35" >707.8&#8201;eV</text>
<line x1="70.50" y1="402.8" x2="70.50" y2="398.3" stroke="#1a1a1a" stroke-width="1.2"/>
<line x1="70.50" y1="212.4" x2="70.50" y2="216.9" stroke="#1a1a1a" stroke-width="1.2"/>
<line x1="102.21" y1="402.8" x2="102.21" y2="399.8" stroke="#1a1a1a" stroke-width="1.2"/>
<line x1="102.21" y1="212.4" x2="102.21" y2="215.4" stroke="#1a1a1a" stroke-width="1.2"/>
<line x1="133.92" y1="402.8" x2="133.92" y2="399.8" stroke="#1a1a1a" stroke-width="1.2"/>
<line x1="133.92" y1="212.4" x2="133.92" y2="215.4" stroke="#1a1a1a" stroke-width="1.2"/>
<line x1="165.62" y1="402.8" x2="165.62" y2="399.8" stroke="#1a1a1a" stroke-width="1.2"/>
<line x1="165.62" y1="212.4" x2="165.62" y2="215.4" stroke="#1a1a1a" stroke-width="1.2"/>
<line x1="197.33" y1="402.8" x2="197.33" y2="398.3" stroke="#1a1a1a" stroke-width="1.2"/>
<line x1="197.33" y1="212.4" x2="197.33" y2="216.9" stroke="#1a1a1a" stroke-width="1.2"/>
<line x1="229.04" y1="402.8" x2="229.04" y2="399.8" stroke="#1a1a1a" stroke-width="1.2"/>
<line x1="229.04" y1="212.4" x2="229.04" y2="215.4" stroke="#1a1a1a" stroke-width="1.2"/>
<line x1="260.75" y1="402.8" x2="260.75" y2="399.8" stroke="#1a1a1a" stroke-width="1.2"/>
<line x1="260.75" y1="212.4" x2="260.75" y2="215.4" stroke="#1a1a1a" stroke-width="1.2"/>
<line x1="292.46" y1="402.8" x2="292.46" y2="399.8" stroke="#1a1a1a" stroke-width="1.2"/>
<line x1="292.46" y1="212.4" x2="292.46" y2="215.4" stroke="#1a1a1a" stroke-width="1.2"/>
<line x1="324.17" y1="402.8" x2="324.17" y2="398.3" stroke="#1a1a1a" stroke-width="1.2"/>
<line x1="324.17" y1="212.4" x2="324.17" y2="216.9" stroke="#1a1a1a" stroke-width="1.2"/>
<line x1="355.88" y1="402.8" x2="355.88" y2="399.8" stroke="#1a1a1a" stroke-width="1.2"/>
<line x1="355.88" y1="212.4" x2="355.88" y2="215.4" stroke="#1a1a1a" stroke-width="1.2"/>
<line x1="387.58" y1="402.8" x2="387.58" y2="399.8" stroke="#1a1a1a" stroke-width="1.2"/>
<line x1="387.58" y1="212.4" x2="387.58" y2="215.4" stroke="#1a1a1a" stroke-width="1.2"/>
<line x1="419.29" y1="402.8" x2="419.29" y2="399.8" stroke="#1a1a1a" stroke-width="1.2"/>
<line x1="419.29" y1="212.4" x2="419.29" y2="215.4" stroke="#1a1a1a" stroke-width="1.2"/>
<line x1="451.00" y1="402.8" x2="451.00" y2="398.3" stroke="#1a1a1a" stroke-width="1.2"/>
<line x1="451.00" y1="212.4" x2="451.00" y2="216.9" stroke="#1a1a1a" stroke-width="1.2"/>
<line x1="70.5" y1="402.60" x2="74.8" y2="402.60" stroke="#1a1a1a" stroke-width="1.2"/>
<line x1="451.0" y1="402.60" x2="446.7" y2="402.60" stroke="#1a1a1a" stroke-width="1.2"/>
<line x1="70.5" y1="373.90" x2="74.8" y2="373.90" stroke="#1a1a1a" stroke-width="1.2"/>
<line x1="451.0" y1="373.90" x2="446.7" y2="373.90" stroke="#1a1a1a" stroke-width="1.2"/>
<line x1="70.5" y1="345.20" x2="74.8" y2="345.20" stroke="#1a1a1a" stroke-width="1.2"/>
<line x1="451.0" y1="345.20" x2="446.7" y2="345.20" stroke="#1a1a1a" stroke-width="1.2"/>
<line x1="70.5" y1="316.50" x2="74.8" y2="316.50" stroke="#1a1a1a" stroke-width="1.2"/>
<line x1="451.0" y1="316.50" x2="446.7" y2="316.50" stroke="#1a1a1a" stroke-width="1.2"/>
<line x1="70.5" y1="287.80" x2="74.8" y2="287.80" stroke="#1a1a1a" stroke-width="1.2"/>
<line x1="451.0" y1="287.80" x2="446.7" y2="287.80" stroke="#1a1a1a" stroke-width="1.2"/>
<line x1="70.5" y1="259.10" x2="74.8" y2="259.10" stroke="#1a1a1a" stroke-width="1.2"/>
<line x1="451.0" y1="259.10" x2="446.7" y2="259.10" stroke="#1a1a1a" stroke-width="1.2"/>
<line x1="70.5" y1="230.40" x2="74.8" y2="230.40" stroke="#1a1a1a" stroke-width="1.2"/>
<line x1="451.0" y1="230.40" x2="446.7" y2="230.40" stroke="#1a1a1a" stroke-width="1.2"/>
<text transform="translate(66.00 408.70) scale(1 1.01)" font-size="17.2" text-anchor="end" font-weight="normal" stroke="#0a0a0a" stroke-width="0.35" >-0.03</text>
<text transform="translate(66.00 380.00) scale(1 1.01)" font-size="17.2" text-anchor="end" font-weight="normal" stroke="#0a0a0a" stroke-width="0.35" >-0.02</text>
<text transform="translate(66.00 351.30) scale(1 1.01)" font-size="17.2" text-anchor="end" font-weight="normal" stroke="#0a0a0a" stroke-width="0.35" >-0.01</text>
<text transform="translate(66.00 322.60) scale(1 1.01)" font-size="17.2" text-anchor="end" font-weight="normal" stroke="#0a0a0a" stroke-width="0.35" >0.00</text>
<text transform="translate(66.00 293.90) scale(1 1.01)" font-size="17.2" text-anchor="end" font-weight="normal" stroke="#0a0a0a" stroke-width="0.35" >0.01</text>
<text transform="translate(66.00 265.20) scale(1 1.01)" font-size="17.2" text-anchor="end" font-weight="normal" stroke="#0a0a0a" stroke-width="0.35" >0.02</text>
<text transform="translate(66.00 236.50) scale(1 1.01)" font-size="17.2" text-anchor="end" font-weight="normal" stroke="#0a0a0a" stroke-width="0.35" >0.03</text>
<text transform="translate(70.50 420.00) scale(1 0.99)" font-size="17.2" text-anchor="middle" font-weight="normal" stroke="#0a0a0a" stroke-width="0.35" >0</text>
<text transform="translate(197.33 420.00) scale(1 0.99)" font-size="17.2" text-anchor="middle" font-weight="normal" stroke="#0a0a0a" stroke-width="0.35" >360</text>
<text transform="translate(324.17 420.00) scale(1 0.99)" font-size="17.2" text-anchor="middle" font-weight="normal" stroke="#0a0a0a" stroke-width="0.35" >720</text>
<text transform="translate(467.40 420.00) scale(1 0.99)" font-size="17.2" text-anchor="end" font-weight="normal" stroke="#0a0a0a" stroke-width="0.35" >1080</text>
<text transform="translate(260.30 433.40)" font-size="17.6" text-anchor="middle" font-weight="normal" stroke="#0a0a0a" stroke-width="0.35" >&#969;t (deg.)</text>
<text transform="translate(17.60 309.20) rotate(-90)" font-size="17.6" text-anchor="middle" font-weight="normal" stroke="#0a0a0a" stroke-width="0.35" >dynamic XMLD (a.u.)</text>
<text transform="translate(86.10 235.60)" font-size="17.5" text-anchor="start" font-weight="bold" stroke="#0a0a0a" stroke-width="0.2" >(c)</text>
</svg>
</body></html>
